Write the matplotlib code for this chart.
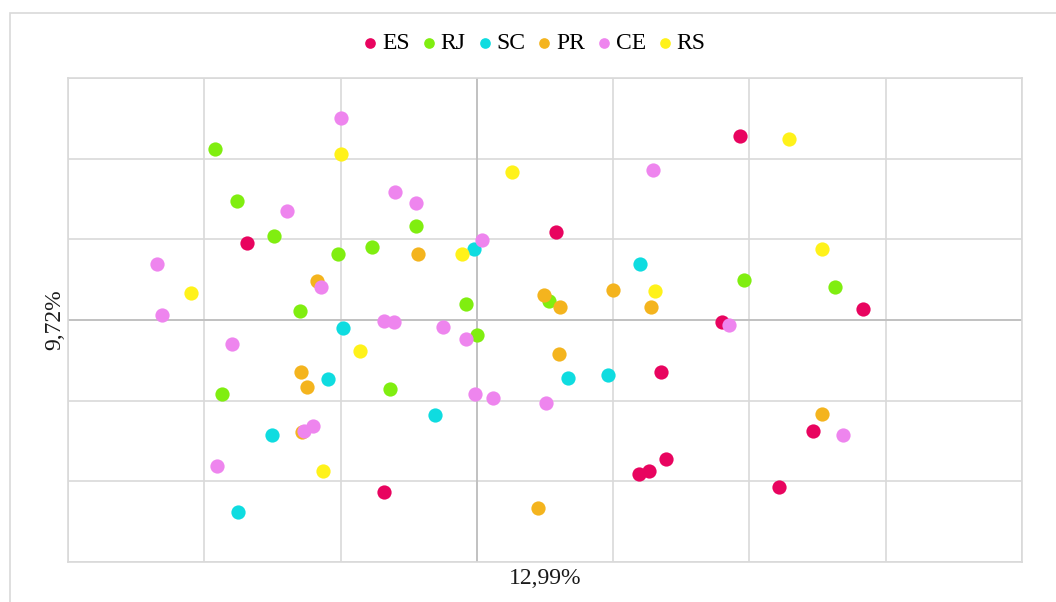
import matplotlib
matplotlib.use("Agg")
import matplotlib.pyplot as plt
from matplotlib.patches import Rectangle

plt.rcParams['font.family'] = ['Liberation Serif', 'DejaVu Serif']

series = ["ES", "RJ", "SC", "PR", "CE", "RS"]
colors = ["#E8045F", "#80EE10", "#0FDCE0", "#F4B41E", "#EE85EE", "#FFF21A"]

es_x = [1.93, 0.58, -1.69, 2.83, 1.80, 1.35, 2.47, 1.39, 1.26, 1.19, -0.68, 2.22]
es_y = [2.28, 1.09, 0.95, 0.14, -0.03, -0.64, -1.38, -1.72, -1.87, -1.91, -2.13, -2.07]

rj_x = [-1.92, -1.76, -0.45, -1.49, -0.77, -1.02, 1.96, 2.63, -0.08, 0.53, -1.30, 0.00, -0.64, -1.87]
rj_y = [2.12, 1.48, 1.17, 1.04, 0.91, 0.82, 0.49, 0.41, 0.20, 0.24, 0.11, -0.19, -0.86, -0.92]

sc_x = [-0.02, 1.20, -0.98, -1.09, 0.67, 0.96, -0.31, -1.50, -1.75]
sc_y = [0.88, 0.70, -0.10, -0.73, -0.72, -0.68, -1.18, -1.43, -2.38]

pr_x = [-0.43, -1.17, 0.49, 0.61, 1.00, 1.28, 0.60, -1.29, -1.25, 2.53, 0.45, -1.28]
pr_y = [0.82, 0.48, 0.31, 0.16, 0.37, 0.16, -0.42, -0.64, -0.83, -1.16, -2.33, -1.39]

ce_x = [-1.00, 1.29, -0.60, -0.45, -1.39, 0.04, -2.35, -1.14, -2.31, -0.68, -0.61, -0.25,
        -0.08, 1.85, -1.80, -0.01, 0.12, 0.51, -1.20, -1.27, 2.69, -1.91]
ce_y = [2.50, 1.86, 1.59, 1.45, 1.35, 0.99, 0.70, 0.41, 0.06, -0.01, -0.02, -0.09,
        -0.24, -0.06, -0.30, -0.92, -0.97, -1.03, -1.31, -1.38, -1.43, -1.81]

rs_x = [2.29, -1.00, 0.26, 2.53, -0.11, -2.10, 1.31, -0.86, -1.13]
rs_y = [2.25, 2.06, 1.83, 0.88, 0.82, 0.33, 0.36, -0.38, -1.87]

xs = [es_x, rj_x, sc_x, pr_x, ce_x, rs_x]
ys = [es_y, rj_y, sc_y, pr_y, ce_y, rs_y]

x_label = "12,99%"
y_label = "9,72%"

fig = plt.figure(figsize=(10.56, 6.02), dpi=100)
fig.patches.append(Rectangle((10/1056, -0.1), 1.2, 1 - 13/602 + 0.1, transform=fig.transFigure,
                             fill=False, edgecolor="#D9D9D9", linewidth=1.2))

ax = fig.add_axes([68/1056, 40/602, 954/1056, 484/602])
ax.set_xlim(-3, 4)
ax.set_ylim(-3, 3)
ax.set_xticks(range(-3, 5))
ax.set_yticks(range(-3, 4))
ax.tick_params(length=0, labelbottom=False, labelleft=False)
ax.grid(True, color="#D9D9D9", linewidth=1.2)
ax.set_axisbelow(True)
for sp in ax.spines.values():
    sp.set_color("#D9D9D9")
    sp.set_linewidth(1.2)
ax.axhline(0, color="#BFBFBF", linewidth=1.3, zorder=1)
ax.axvline(0, color="#BFBFBF", linewidth=1.3, zorder=1)

for name, c, x, y in zip(series, colors, xs, ys):
    ax.scatter(x, y, s=105, color=c, label=name, linewidths=0, zorder=3)

ax.set_xlabel(x_label, fontsize=17, labelpad=4, color="#1a1a1a")
ax.set_ylabel(y_label, fontsize=17, labelpad=2, color="#1a1a1a")

handles, labels = ax.get_legend_handles_labels()
fig.legend(handles, labels, loc="center", bbox_to_anchor=(535/1056, 1 - 43/602), ncol=6,
           frameon=False, fontsize=17, handlelength=0.5, handletextpad=0.25, columnspacing=0.55,
           markerscale=0.75, borderpad=0)

fig.savefig("out.png", dpi=100)
